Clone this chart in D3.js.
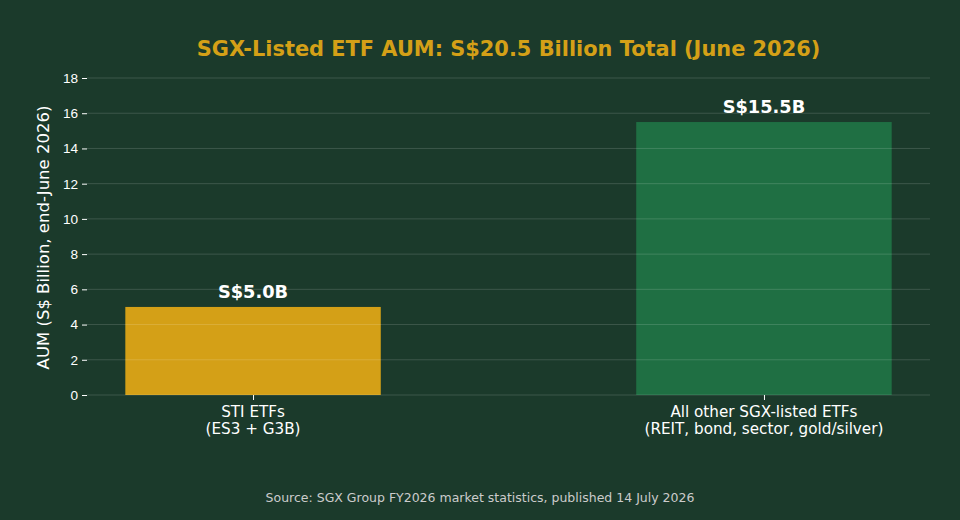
<!DOCTYPE html>
<html>
<head>
<meta charset="utf-8">
<script src="https://cdn.jsdelivr.net/npm/d3@7"></script>
<style>
  body { margin: 0; background: #1b3a2b; }
  svg { display: block; font-family: "DejaVu Sans", sans-serif; }
</style>
</head>
<body>
<svg id="chart" width="960" height="520"></svg>
<script>
// Data
const categories = ["STI ETFs\n(ES3 + G3B)", "All other SGX-listed ETFs\n(REIT, bond, sector, gold/silver)"];
const values = [5.0, 15.5];
const valueLabels = ["S$5.0B", "S$15.5B"];
const barColors = ["#d4a017", "#1f6f43"];
const yTicks = [0, 2, 4, 6, 8, 10, 12, 14, 16, 18];

const margin = { top: 78, right: 30, bottom: 125, left: 87 };
const width = 960 - margin.left - margin.right;
const height = 520 - margin.top - margin.bottom;

const svg = d3.select("#chart");
svg.append("rect").attr("width", 960).attr("height", 520).attr("fill", "#1b3a2b");

const g = svg.append("g").attr("transform", `translate(${margin.left}, ${margin.top})`);

// x as a linear scale like matplotlib positions (0, 1) with bar width 0.5
const x = d3.scaleLinear().domain([-0.325, 1.325]).range([0, width]);
const y = d3.scaleLinear().domain([0, 18]).range([height, 0]);

// Bars
g.selectAll(".bar")
  .data(values)
  .enter()
  .append("rect")
  .attr("class", "bar")
  .attr("x", (d, i) => x(i - 0.25))
  .attr("width", x(0.25) - x(-0.25))
  .attr("y", (d) => y(d))
  .attr("height", (d) => height - y(d))
  .attr("fill", (d, i) => barColors[i]);

// Grid lines (drawn over the bars, faint)
g.selectAll(".grid")
  .data(yTicks)
  .enter()
  .append("line")
  .attr("x1", 0)
  .attr("x2", width)
  .attr("y1", (d) => y(d))
  .attr("y2", (d) => y(d))
  .attr("stroke", "#ffffff")
  .attr("stroke-opacity", 0.15)
  .attr("stroke-width", 1);

// Y axis
const yAxis = g.append("g").call(d3.axisLeft(y).tickValues(yTicks).tickSize(5).tickPadding(4));
yAxis.select(".domain").remove();
yAxis.selectAll(".tick line").attr("stroke", "#ffffff");
yAxis.selectAll(".tick text").attr("fill", "#ffffff").style("font-size", "13.6px");

// X axis
const xAxis = g.append("g")
  .attr("transform", `translate(0, ${height})`)
  .call(d3.axisBottom(x).tickValues([0, 1]).tickSize(5).tickFormat(""));
xAxis.select(".domain").remove();
xAxis.selectAll(".tick line").attr("stroke", "#ffffff");

// Category labels (two lines)
categories.forEach((c, i) => {
  const t = g.append("text")
    .attr("x", x(i))
    .attr("y", height + 22)
    .attr("text-anchor", "middle")
    .attr("fill", "#ffffff")
    .style("font-size", "15.2px");
  c.split("\n").forEach((line, j) => {
    t.append("tspan").attr("x", x(i)).attr("dy", j === 0 ? 0 : "1.12em").text(line);
  });
});

// Value labels
g.selectAll(".value")
  .data(values)
  .enter()
  .append("text")
  .attr("x", (d, i) => x(i))
  .attr("y", (d) => y(d) - 9)
  .attr("text-anchor", "middle")
  .attr("fill", "#ffffff")
  .style("font-size", "17.8px")
  .style("font-weight", "bold")
  .text((d, i) => valueLabels[i]);

// Y axis label
svg.append("text")
  .attr("transform", `translate(49, ${margin.top + height / 2 + 1}) rotate(-90)`)
  .attr("text-anchor", "middle")
  .attr("fill", "#ffffff")
  .style("font-size", "16.5px")
  .text("AUM (S$ Billion, end-June 2026)");

// Title
svg.append("text")
  .attr("x", margin.left + width / 2)
  .attr("y", 56)
  .attr("text-anchor", "middle")
  .attr("fill", "#d4a017")
  .style("font-size", "20.9px")
  .style("font-weight", "bold")
  .text("SGX-Listed ETF AUM: S$20.5 Billion Total (June 2026)");

// Source
svg.append("text")
  .attr("x", 480)
  .attr("y", 502)
  .attr("text-anchor", "middle")
  .attr("fill", "#cccccc")
  .style("font-size", "12.5px")
  .text("Source: SGX Group FY2026 market statistics, published 14 July 2026");
</script>
</body>
</html>
